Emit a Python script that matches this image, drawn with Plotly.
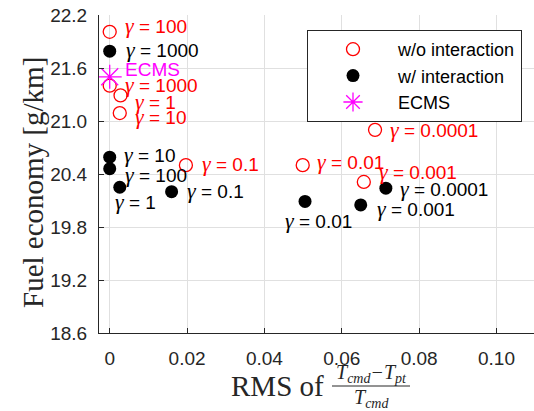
import plotly.graph_objects as go

# ---- data ----
gamma_wo = ["100", "1000", "1", "10", "0.1", "0.01", "0.0001", "0.001"]
rms_wo = [0.0, 0.0, 0.0028, 0.0026, 0.0197, 0.0499, 0.0686, 0.0657]
fuel_wo = [22.01, 21.40, 21.29, 21.09, 20.50, 20.50, 20.90, 20.31]

gamma_w = ["1000", "10", "100", "1", "0.1", "0.01", "0.001", "0.0001"]
rms_w = [0.0, 0.0, 0.0, 0.0026, 0.0160, 0.0505, 0.0649, 0.0714]
fuel_w = [21.79, 20.59, 20.46, 20.25, 20.20, 20.09, 20.05, 20.24]

rms_ecms = [0.0]
fuel_ecms = [21.50]

x_tickvals = [0, 0.02, 0.04, 0.06, 0.08, 0.10]
x_ticktext = ["0", "0.02", "0.04", "0.06", "0.08", "0.10"]
y_tickvals = [18.6, 19.2, 19.8, 20.4, 21.0, 21.6, 22.2]
y_ticktext = ["18.6", "19.2", "19.8", "20.4", "21.0", "21.6", "22.2"]

# label offsets in pixels (xshift, yshift) -- styling only
off_wo = [(13, 6), (13, 1.5), (12, -6.5), (13, -3), (14, 1.5), (12, 4), (13, 0), (13, 10)]
off_w = [(14, 2), (12, 3), (13, -6), (-7, -14.5), (13, 1), (-22, -19), (14, -4), (12, 0)]
off_ecms = (13, 7)

AX = "#262626"
SANS = "Liberation Sans, Arial, sans-serif"
SERIF = "Liberation Serif, Times New Roman, serif"
GAM = "<span style=\"font-family:'Liberation Serif';font-size:22px\"><i>γ</i></span>"
LBL = 19

fig = go.Figure()
fig.add_trace(go.Scatter(
    x=rms_wo, y=fuel_wo, mode="markers", name="w/o interaction",
    marker=dict(symbol="circle-open", size=13, color="#ff0000",
                line=dict(width=1.3, color="#ff0000")),
))
fig.add_trace(go.Scatter(
    x=rms_w, y=fuel_w, mode="markers", name="w/ interaction",
    marker=dict(symbol="circle", size=13, color="#000000"),
))
fig.add_trace(go.Scatter(
    x=rms_ecms, y=fuel_ecms, mode="markers", name="ECMS",
    marker=dict(symbol="asterisk-open", size=20, color="#ff00ff",
                line=dict(width=1.3, color="#ff00ff")),
))

annotations = []
for g, xv, yv, (dx, dy) in zip(gamma_wo, rms_wo, fuel_wo, off_wo):
    annotations.append(dict(x=xv, y=yv, xref="x", yref="y", text=f"{GAM} = {g}",
                            showarrow=False, xanchor="left", yanchor="middle",
                            xshift=dx, yshift=dy,
                            font=dict(family=SANS, size=LBL, color="#ff0000")))
for g, xv, yv, (dx, dy) in zip(gamma_w, rms_w, fuel_w, off_w):
    annotations.append(dict(x=xv, y=yv, xref="x", yref="y", text=f"{GAM} = {g}",
                            showarrow=False, xanchor="left", yanchor="middle",
                            xshift=dx, yshift=dy,
                            font=dict(family=SANS, size=LBL, color="#000000")))
annotations.append(dict(x=rms_ecms[0], y=fuel_ecms[0], xref="x", yref="y", text="ECMS",
                        showarrow=False, xanchor="left", yanchor="middle",
                        xshift=off_ecms[0], yshift=off_ecms[1],
                        font=dict(family=SANS, size=LBL, color="#ff00ff")))

# plot area geometry: left 99px, width 435px, top 15px, height 318px
def px(xp):
    return (xp - 99) / 435.0
def py(yp):
    return (333 - yp) / 318.0

# y-axis title
annotations.append(dict(x=px(33), y=py(183), xref="paper", yref="paper",
                        text="Fuel economy [g/km]", textangle=-90, showarrow=False,
                        xanchor="center", yanchor="middle",
                        font=dict(family=SERIF, size=29, color=AX)))
# x-axis title: "RMS of" + fraction
annotations.append(dict(x=px(229), y=py(386), xref="paper", yref="paper",
                        text="RMS of", showarrow=False, xanchor="left", yanchor="middle",
                        font=dict(family=SERIF, size=29, color=AX)))
annotations.append(dict(x=px(371), y=py(373), xref="paper", yref="paper",
                        text="<i>T<sub>cmd</sub>−T<sub>pt</sub></i>", showarrow=False,
                        xanchor="center", yanchor="middle",
                        font=dict(family=SERIF, size=20, color=AX)))
annotations.append(dict(x=px(371), y=py(398), xref="paper", yref="paper",
                        text="<i>T<sub>cmd</sub></i>", showarrow=False,
                        xanchor="center", yanchor="middle",
                        font=dict(family=SERIF, size=20, color=AX)))

shapes = [dict(type="line", xref="paper", yref="paper",
               x0=px(332), x1=px(410), y0=py(386), y1=py(386),
               line=dict(color=AX, width=1))]

fig.update_layout(
    width=534, height=411,
    margin=dict(l=99, r=0, t=15, b=78),
    plot_bgcolor="white", paper_bgcolor="white",
    annotations=annotations, shapes=shapes,
    showlegend=True,
    legend=dict(x=px(307), y=py(30), xanchor="left", yanchor="top",
                bgcolor="white", bordercolor=AX, borderwidth=1,
                font=dict(family=SANS, size=18, color="#000000"),
                itemwidth=80),
    xaxis=dict(range=[-0.00277, 0.1097], tickvals=x_tickvals, ticktext=x_ticktext,
               showgrid=True, gridcolor="#e0e0e0", gridwidth=1, zeroline=False,
               showline=True, linecolor=AX, linewidth=1,
               ticks="inside", ticklen=5, tickcolor=AX, ticklabelstandoff=8,
               tickfont=dict(family=SANS, size=19, color=AX)),
    yaxis=dict(range=[18.6, 22.2], tickvals=y_tickvals, ticktext=y_ticktext,
               showgrid=True, gridcolor="#e0e0e0", gridwidth=1, zeroline=False,
               showline=True, linecolor=AX, linewidth=1,
               ticks="inside", ticklen=5, tickcolor=AX, ticklabelstandoff=7,
               tickfont=dict(family=SANS, size=19, color=AX)),
)

fig.write_html("out.html")
